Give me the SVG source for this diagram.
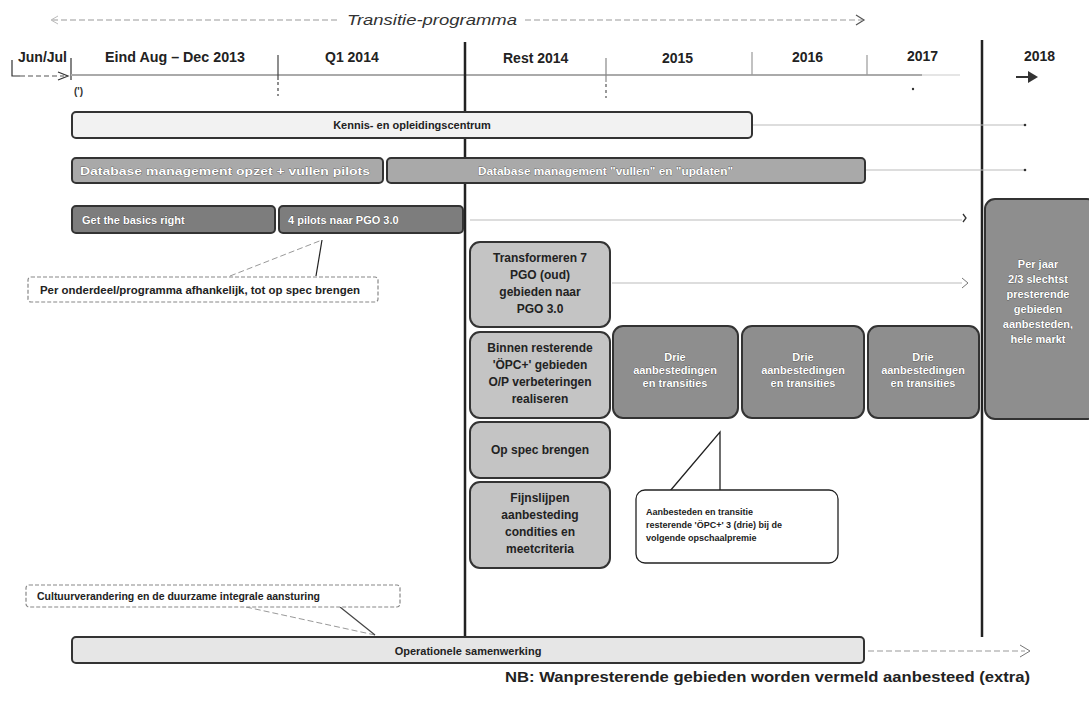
<svg xmlns="http://www.w3.org/2000/svg" width="1089" height="709" viewBox="0 0 1089 709">
<defs>
<style>
text{font-family:"Liberation Sans",Arial,sans-serif;font-weight:bold;}
.hdr{font-size:14px;fill:#222;}
.lbl{font-size:11px;fill:#222;text-anchor:middle;}
.rl{font-size:12px;fill:#222;text-anchor:middle;}
.wl{font-size:11px;fill:#fff;stroke:#222;stroke-width:0.4px;paint-order:stroke;}
.wc{font-size:11px;fill:#fff;stroke:#222;stroke-width:0.4px;paint-order:stroke;text-anchor:middle;}
.light{fill:#f2f2f2;stroke:#333;stroke-width:2;}
.mid{fill:#a9a9a9;stroke:#333;stroke-width:2;}
.dark{fill:#7d7d7d;stroke:#333;stroke-width:2;}
.rest{fill:#c4c4c4;stroke:#333;stroke-width:2;}
.drie{fill:#8e8e8e;stroke:#333;stroke-width:2;}
.call{fill:#fff;stroke:#888;stroke-width:1.2;stroke-dasharray:4 2;}
.faint{stroke:#bbb;stroke-width:1;fill:none;}
.dash{stroke:#999;stroke-width:1;stroke-dasharray:6 3;fill:none;}
</style>
</defs>
<rect width="1089" height="709" fill="#fff"/>

<g id="header">
<line x1="52" y1="20" x2="340" y2="20" class="dash"/>
<line x1="525" y1="20" x2="862" y2="20" class="dash"/>
<path d="M58,16 L51,20 L58,24" class="faint"/>
<path d="M856,15 L864,20 L856,25" fill="none" stroke="#555" stroke-width="1.2"/>
<text x="347" y="25" font-size="15" font-style="italic" fill="#333" textLength="170" lengthAdjust="spacingAndGlyphs" style="font-weight:normal">Transitie-programma</text>
<text x="18" y="62" class="hdr">Jun/Jul</text>
<text x="105" y="62" class="hdr" textLength="140" lengthAdjust="spacingAndGlyphs">Eind Aug – Dec 2013</text>
<text x="325" y="62" class="hdr">Q1 2014</text>
<text x="503" y="63" class="hdr">Rest 2014</text>
<text x="662" y="63" class="hdr">2015</text>
<text x="792" y="62" class="hdr">2016</text>
<text x="907" y="61" class="hdr">2017</text>
<text x="1024" y="61" class="hdr">2018</text>
<path d="M12,60 L12,76 L20,76" fill="none" stroke="#333" stroke-width="1.2"/>
<path d="M20,76 L64,76" stroke="#555" stroke-width="1.2" stroke-dasharray="5 3"/>
<path d="M58,72 L68,76 L58,80" fill="none" stroke="#333" stroke-width="1.2"/>
<line x1="71" y1="58" x2="71" y2="80" stroke="#333" stroke-width="1.2"/>
<line x1="71" y1="75" x2="922" y2="75" stroke="#aaa" stroke-width="2"/>
<line x1="922" y1="75" x2="960" y2="75" stroke="#ddd" stroke-width="1.5"/>
<line x1="278" y1="55" x2="278" y2="80" stroke="#444" stroke-width="1.2"/>
<line x1="278" y1="82" x2="278" y2="96" stroke="#444" stroke-width="1.2" stroke-dasharray="3 3"/>
<line x1="606" y1="58" x2="606" y2="82" stroke="#888" stroke-width="1.2"/>
<line x1="606" y1="84" x2="606" y2="98" stroke="#555" stroke-width="1.2" stroke-dasharray="3 3"/>
<line x1="752" y1="52" x2="752" y2="75" stroke="#999" stroke-width="1.2"/>
<line x1="867" y1="55" x2="867" y2="75" stroke="#999" stroke-width="1.2"/>
<text x="74" y="95" font-size="10" fill="#333">(')</text>
<circle cx="913" cy="89" r="1.2" fill="#333"/>
<line x1="1016" y1="77" x2="1036" y2="77" stroke="#333" stroke-width="2"/>
<path d="M1028,71 L1038,77 L1028,83 Z" fill="#333"/>
</g>

<g id="axes">
<line x1="465" y1="42" x2="465" y2="637" stroke="#222" stroke-width="2.5"/>
<line x1="982" y1="40" x2="982" y2="637" stroke="#222" stroke-width="2.5"/>
</g>

<g id="connectors">
<line x1="753" y1="125" x2="1024" y2="125" class="faint"/>
<circle cx="1025" cy="125" r="1.3" fill="#333"/>
<line x1="866" y1="170" x2="1024" y2="170" class="faint"/>
<circle cx="1025" cy="170" r="1.3" fill="#333"/>
<line x1="470" y1="220" x2="962" y2="220" class="faint"/>
<path d="M963,214 L966,218 L963,222" fill="none" stroke="#333" stroke-width="1.3"/>
<line x1="612" y1="283" x2="962" y2="283" class="faint"/>
<path d="M962,278 L968,283 L962,288" fill="none" stroke="#777" stroke-width="1"/>
<line x1="868" y1="651" x2="1025" y2="651" class="dash"/>
<path d="M1020,645 L1030,651 L1020,657" fill="none" stroke="#777" stroke-width="1"/>
</g>

<g id="kennis">
<rect x="72" y="112" width="680" height="26" rx="4" class="light"/>
<text x="412" y="129" class="lbl">Kennis- en opleidingscentrum</text>
</g>
<g id="db-opzet">
<rect x="72" y="158" width="311" height="25" rx="4" class="mid"/>
<text x="80" y="175" class="wl" textLength="290" lengthAdjust="spacingAndGlyphs">Database management opzet + vullen pilots</text>
</g>
<g id="db-vullen">
<rect x="387" y="158" width="478" height="25" rx="4" class="mid"/>
<text x="478" y="175" class="wl" textLength="255" lengthAdjust="spacingAndGlyphs">Database management "vullen" en "updaten"</text>
</g>
<g id="basics">
<rect x="72" y="206" width="203" height="27" rx="4" class="dark"/>
<text x="82" y="224" class="wl">Get the basics right</text>
</g>
<g id="pilots">
<rect x="279" y="206" width="184" height="27" rx="4" class="dark"/>
<text x="288" y="224" class="wl">4 pilots naar PGO 3.0</text>
</g>

<g id="callout-pilots">
<path d="M230,276 L322,240" class="dash"/>
<path d="M316,276 L322,240" stroke="#222" stroke-width="1.2" fill="none"/>
<rect x="28" y="277" width="350" height="25" rx="3" class="call"/>
<text x="40" y="294" font-size="10" fill="#222" textLength="320" lengthAdjust="spacingAndGlyphs">Per onderdeel/programma afhankelijk, tot op spec brengen</text>
</g>

<g id="transformeren">
<rect x="470" y="242" width="140" height="85" rx="10" class="rest"/>
<text class="rl"><tspan x="540" y="262">Transformeren 7</tspan><tspan x="540" y="279">PGO (oud)</tspan><tspan x="540" y="296">gebieden naar</tspan><tspan x="540" y="313">PGO 3.0</tspan></text>
</g>
<g id="binnen">
<rect x="470" y="332" width="140" height="86" rx="10" class="rest"/>
<text class="rl"><tspan x="540" y="352">Binnen resterende</tspan><tspan x="540" y="369">'ÖPC+' gebieden</tspan><tspan x="540" y="386">O/P verbeteringen</tspan><tspan x="540" y="403">realiseren</tspan></text>
</g>
<g id="opspec">
<rect x="470" y="422" width="140" height="56" rx="10" class="rest"/>
<text x="540" y="454" class="rl">Op spec brengen</text>
</g>
<g id="fijnslijpen">
<rect x="470" y="482" width="140" height="86" rx="10" class="rest"/>
<text class="rl"><tspan x="540" y="502">Fijnslijpen</tspan><tspan x="540" y="519">aanbesteding</tspan><tspan x="540" y="536">condities en</tspan><tspan x="540" y="553">meetcriteria</tspan></text>
</g>

<g id="drie-2015">
<rect x="613" y="326" width="125" height="92" rx="10" class="drie"/>
<text class="wc"><tspan x="675" y="361">Drie</tspan><tspan x="675" y="374">aanbestedingen</tspan><tspan x="675" y="387">en transities</tspan></text>
</g>
<g id="drie-2016">
<rect x="742" y="326" width="122" height="92" rx="10" class="drie"/>
<text class="wc"><tspan x="803" y="361">Drie</tspan><tspan x="803" y="374">aanbestedingen</tspan><tspan x="803" y="387">en transities</tspan></text>
</g>
<g id="drie-2017">
<rect x="868" y="326" width="111" height="92" rx="10" class="drie"/>
<text class="wc"><tspan x="923" y="361">Drie</tspan><tspan x="923" y="374">aanbestedingen</tspan><tspan x="923" y="387">en transities</tspan></text>
</g>
<g id="perjaar">
<rect x="985" y="199" width="112" height="220" rx="10" class="drie"/>
<text class="wc"><tspan x="1038" y="268">Per jaar</tspan><tspan x="1038" y="283">2/3 slechtst</tspan><tspan x="1038" y="298">presterende</tspan><tspan x="1038" y="313">gebieden</tspan><tspan x="1038" y="328">aanbesteden,</tspan><tspan x="1038" y="343">hele markt</tspan></text>
</g>

<g id="callout-aanbesteden">
<path d="M670,491 L720,432 L720,491" stroke="#222" stroke-width="1.3" fill="none"/>
<rect x="636" y="490" width="202" height="73" rx="9" fill="#fff" stroke="#222" stroke-width="1.3"/>
<text font-size="9" fill="#222"><tspan x="646" y="515">Aanbesteden en transitie</tspan><tspan x="646" y="528">resterende 'ÖPC+' 3 (drie) bij de</tspan><tspan x="646" y="541">volgende opschaalpremie</tspan></text>
</g>

<g id="callout-cultuur">
<path d="M246,607 L375,635" class="dash"/>
<path d="M340,607 L375,635" stroke="#444" stroke-width="1.2" fill="none"/>
<rect x="26" y="585" width="374" height="22" rx="3" class="call"/>
<text x="37" y="600" font-size="10" fill="#222" textLength="283" lengthAdjust="spacingAndGlyphs">Cultuurverandering en de duurzame integrale aansturing</text>
</g>

<g id="operationele">
<rect x="72" y="637" width="792" height="26" rx="4" fill="#e6e6e6" stroke="#333" stroke-width="2"/>
<text x="468" y="655" class="lbl">Operationele samenwerking</text>
</g>

<text x="505" y="682" font-size="15" fill="#222" textLength="525" lengthAdjust="spacingAndGlyphs">NB: Wanpresterende gebieden worden vermeld aanbesteed (extra)</text>
</svg>
